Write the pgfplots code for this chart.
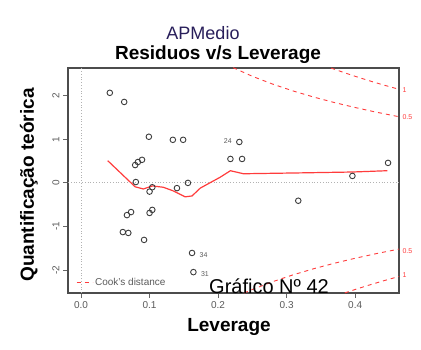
\documentclass[border=0pt]{standalone}
\usepackage{fontspec}
\setmainfont{Liberation Sans}
\usepackage{pgfplots}
\pgfplotsset{compat=1.18}
\definecolor{cookred}{RGB}{255,60,60}
\definecolor{ptgray}{RGB}{60,60,60}
\definecolor{tickgray}{RGB}{90,90,90}
\definecolor{titleblue}{RGB}{40,30,90}
\begin{document}
\begin{tikzpicture}[x=1pt,y=1pt]
\useasboundingbox (0,0) rectangle (421,349);
\begin{axis}[
  at={(68pt,56pt)}, anchor=south west,
  scale only axis, width=331pt, height=225pt,
  xmin=-0.019, xmax=0.464, ymin=-2.53, ymax=2.64,
  axis line style={draw=black!70, line width=1.2pt},
  xtick={0,0.1,0.2,0.3,0.4}, ytick={-2,-1,0,1,2},
  xticklabels={0.0,0.1,0.2,0.3,0.4},
  yticklabels={-2,-1,0,1,2},
  tick align=outside, xtick pos=bottom, ytick pos=left,
  major tick length=5pt,
  tick style={draw=black!60, line width=0.8pt},
  ticklabel style={font=\fontsize{10}{10}\selectfont, text=tickgray},
  yticklabel style={rotate=90, anchor=south},
  /pgf/number format/assume math mode=true,
  clip mode=individual,
  legend style={at={(0.015,0.045)}, anchor=west, draw=none, fill=none,
    font=\fontsize{10}{10}\selectfont, text=tickgray},
  legend cell align=left,
  legend image code/.code={\draw[#1] (0pt,0pt) -- (16pt,0pt);},
]
% reference lines
\addplot[forget plot, black!30, dotted, line width=0.8pt] coordinates {(-0.019,0) (0.464,0)};
\addplot[forget plot, black!30, dotted, line width=0.8pt] coordinates {(0,-2.53) (0,2.64)};
% Cook's distance curves
\addplot[cookred, dash pattern=on 4pt off 4pt, line width=0.9pt] coordinates {
(0.222,2.647) (0.25,2.449) (0.28,2.268) (0.31,2.110) (0.34,1.970) (0.37,1.845) (0.40,1.732) (0.43,1.628) (0.466,1.514)};
\addlegendentry{Cook's distance}
\addplot[forget plot, cookred, dash pattern=on 4pt off 4pt, line width=0.9pt] coordinates {
(0.365,2.638) (0.38,2.555) (0.40,2.449) (0.42,2.350) (0.44,2.256) (0.466,2.141)};
\addplot[forget plot, cookred, dash pattern=on 4pt off 4pt, line width=0.9pt] coordinates {
(0.238,-2.530) (0.25,-2.449) (0.28,-2.268) (0.31,-2.110) (0.34,-1.970) (0.37,-1.845) (0.40,-1.732) (0.43,-1.628) (0.466,-1.514)};
\addplot[forget plot, cookred, dash pattern=on 4pt off 4pt, line width=0.9pt] coordinates {
(0.385,-2.528) (0.40,-2.449) (0.42,-2.350) (0.44,-2.256) (0.466,-2.141)};
% smoother
\addplot[forget plot, cookred, line width=1.2pt] coordinates {
(0.039,0.51) (0.079,-0.09) (0.091,-0.14) (0.104,-0.07) (0.120,-0.10) (0.134,-0.18) (0.152,-0.32) (0.162,-0.30) (0.174,-0.12) (0.203,0.13) (0.218,0.28) (0.237,0.21) (0.320,0.23) (0.396,0.25) (0.447,0.28)};
% residual points
\addplot[forget plot, only marks, mark=o, mark size=2.8pt, mark options={draw=ptgray, line width=0.9pt}] coordinates {
(0.042,2.07) (0.063,1.86) (0.099,1.06) (0.134,0.99) (0.149,0.99)
(0.079,0.41) (0.083,0.48) (0.089,0.53) (0.080,0.02) (0.100,-0.20)
(0.104,-0.10) (0.140,-0.12) (0.156,0.00) (0.067,-0.74) (0.073,-0.67)
(0.100,-0.69) (0.104,-0.62) (0.061,-1.13) (0.069,-1.15) (0.092,-1.31)
(0.162,-1.61) (0.164,-2.05) (0.218,0.55) (0.235,0.55) (0.231,0.94)
(0.317,-0.41) (0.396,0.16) (0.448,0.46)};
% point ids
\node[font=\fontsize{7}{7}\selectfont, text=tickgray, anchor=east] at (axis cs:0.225,0.96) {24};
\node[font=\fontsize{7}{7}\selectfont, text=tickgray, anchor=west] at (axis cs:0.168,-1.66) {34};
\node[font=\fontsize{7}{7}\selectfont, text=tickgray, anchor=west] at (axis cs:0.170,-2.10) {31};
% Cook labels
\node[font=\fontsize{7}{7}\selectfont, text=cookred, anchor=west] at (axis cs:0.464,2.14) {1};
\node[font=\fontsize{7}{7}\selectfont, text=cookred, anchor=west] at (axis cs:0.464,1.52) {0.5};
\node[font=\fontsize{7}{7}\selectfont, text=cookred, anchor=west] at (axis cs:0.464,-1.56) {0.5};
\node[font=\fontsize{7}{7}\selectfont, text=cookred, anchor=west] at (axis cs:0.464,-2.11) {1};
\end{axis}
\node[font=\fontsize{18}{18}\selectfont, text=titleblue] at (203,316) {APMedio};
\node[font=\bfseries\fontsize{19}{19}\selectfont] at (218,294) {Residuos v/s Leverage};
\node[font=\bfseries\fontsize{19}{19}\selectfont, rotate=90] at (29,164) {Quantificação teórica};
\node[font=\bfseries\fontsize{19}{19}\selectfont] at (229,22) {Leverage};
\node[font=\fontsize{20}{20}\selectfont] at (269,63) {Gráfico Nº 42};
\end{tikzpicture}
\end{document}
